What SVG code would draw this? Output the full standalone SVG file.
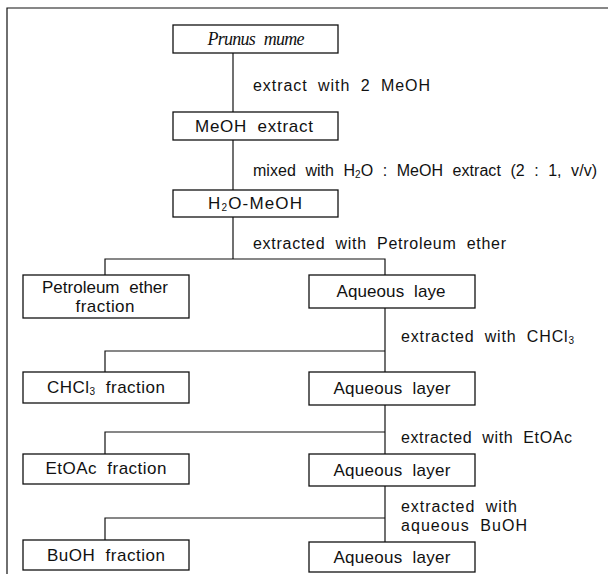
<svg xmlns="http://www.w3.org/2000/svg" width="608" height="574" viewBox="0 0 608 574">
<style>
.box{fill:#fff;stroke:#111;stroke-width:1.3}
.ln{fill:none;stroke:#111;stroke-width:1.2}
text{font-family:"Liberation Sans","DejaVu Sans",sans-serif;font-size:16px;fill:#111;word-spacing:5px}
.c{text-anchor:middle;font-size:17px}
.it{font-family:"Liberation Serif",serif;font-style:italic;font-size:18px}
.sub{font-size:10px}
</style>
<rect x="0" y="0" width="608" height="574" fill="#fff"/>
<g id="frame" class="ln"><path d="M7,574 V8 H608"/></g>
<g id="connectors" class="ln">
<path d="M233,53 V112"/>
<path d="M233,140 V190"/>
<path d="M233,217 V259"/>
<path d="M105,275 V259 H385 V275"/>
<path d="M385,308 V372"/>
<path d="M105,372 V351 H385"/>
<path d="M385,405 V454"/>
<path d="M105,454 V432 H385"/>
<path d="M385,486 V542"/>
<path d="M105,540 V518 H385"/>
</g>
<g id="labels">
<text x="253" y="91" textLength="177">extract with 2 MeOH</text>
<text x="253" y="176" textLength="344">mixed with H<tspan class="sub" dy="2">2</tspan><tspan dy="-2">O : MeOH extract (2 : 1, v/v)</tspan></text>
<text x="253" y="249" textLength="253">extracted with Petroleum ether</text>
<text x="401" y="342" textLength="173">extracted with CHCl<tspan class="sub" dy="2">3</tspan></text>
<text x="401" y="443" textLength="171">extracted with EtOAc</text>
<text x="401" y="512" textLength="116">extracted with</text>
<text x="401" y="531" textLength="126">aqueous BuOH</text>
</g>
<g id="n-prunus"><rect class="box" x="173" y="25" width="165" height="28"/><text class="it c" x="256" y="45" textLength="97">Prunus mume</text></g>
<g id="n-meoh"><rect class="box" x="173" y="112" width="165" height="28"/><text class="c" x="254" y="132" textLength="118">MeOH extract</text></g>
<g id="n-h2o"><rect class="box" x="173" y="190" width="165" height="27"/><text class="c" x="255" y="209" textLength="94">H<tspan class="sub" dy="2">2</tspan><tspan dy="-2">O-MeOH</tspan></text></g>
<g id="n-pet"><rect class="box" x="23" y="275" width="166" height="43"/><text class="c" x="105" y="293" textLength="126">Petroleum ether</text><text class="c" x="105" y="312" textLength="59">fraction</text></g>
<g id="n-aq1"><rect class="box" x="309" y="275" width="166" height="33"/><text class="c" x="391" y="297" textLength="109">Aqueous laye</text></g>
<g id="n-chcl3"><rect class="box" x="23" y="372" width="166" height="31"/><text class="c" x="106" y="393" textLength="118">CHCl<tspan class="sub" dy="2">3</tspan><tspan dy="-2"> fraction</tspan></text></g>
<g id="n-aq2"><rect class="box" x="309" y="372" width="166" height="33"/><text class="c" x="392" y="394" textLength="117">Aqueous layer</text></g>
<g id="n-etoac"><rect class="box" x="23" y="454" width="166" height="30"/><text class="c" x="106" y="474" textLength="121">EtOAc fraction</text></g>
<g id="n-aq3"><rect class="box" x="309" y="454" width="166" height="32"/><text class="c" x="392" y="476" textLength="117">Aqueous layer</text></g>
<g id="n-buoh"><rect class="box" x="23" y="540" width="166" height="30"/><text class="c" x="106" y="561" textLength="118">BuOH fraction</text></g>
<g id="n-aq4"><rect class="box" x="309" y="542" width="166" height="30"/><text class="c" x="392" y="563" textLength="117">Aqueous layer</text></g>
</svg>
